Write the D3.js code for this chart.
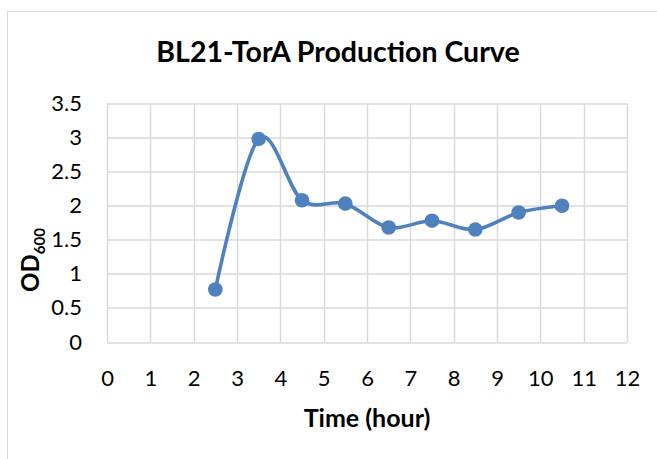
<!DOCTYPE html>
<html>
<head>
<meta charset="utf-8">
<script src="https://cdn.jsdelivr.net/npm/d3@7"></script>
<style>
  body { margin: 0; background: #fff; }
</style>
</head>
<body>
<div id="chart"></div>
<script>
// data
const hours = [2.5, 3.5, 4.5, 5.5, 6.5, 7.5, 8.5, 9.5, 10.5]
const od600 = [0.77, 2.98, 2.08, 2.03, 1.68, 1.78, 1.65, 1.90, 2.00]
const xTicks = [0, 1, 2, 3, 4, 5, 6, 7, 8, 9, 10, 11, 12]
const yTicks = [0, 0.5, 1, 1.5, 2, 2.5, 3, 3.5]

const W = 657, H = 459
const margin = { top: 103.5, right: 30, bottom: 117, left: 107 }
const width = 627 - margin.left
const height = 342 - margin.top
const font = "Lato, 'Open Sans', sans-serif"
const grid = "#d9d9d9"
const blue = "#4f81bd"

const svg = d3.select("#chart")
    .append("svg")
    .attr("width", W)
    .attr("height", H)

// chart frame
svg.append("rect")
    .attr("x", 7.5)
    .attr("y", 11.5)
    .attr("width", W)
    .attr("height", H)
    .attr("fill", "#fff")
    .attr("stroke", grid)

svg.append("text")
    .attr("x", 338)
    .attr("y", 62)
    .attr("text-anchor", "middle")
    .attr("font-family", font)
    .attr("font-weight", "700")
    .attr("font-size", 28.5)
    .attr("fill", "#000")
    .text("BL21-TorA Production Curve")

const g = svg.append("g")
    .attr("transform", "translate(" + margin.left + "," + margin.top + ")")

let x = d3.scaleLinear().domain([0, 12]).range([0, width])
let y = d3.scaleLinear().domain([0, 3.5]).range([height, 0])

// gridlines
g.append("g")
    .selectAll("line")
    .data(yTicks)
    .enter()
    .append("line")
    .attr("x1", 0)
    .attr("x2", width)
    .attr("y1", d => Math.round(y(d)) + 0.5)
    .attr("y2", d => Math.round(y(d)) + 0.5)
    .attr("stroke", grid)
    .attr("stroke-width", 1.5)

g.append("g")
    .selectAll("line")
    .data(xTicks)
    .enter()
    .append("line")
    .attr("x1", d => Math.round(x(d)) + 0.5)
    .attr("x2", d => Math.round(x(d)) + 0.5)
    .attr("y1", 0)
    .attr("y2", height)
    .attr("stroke", grid)
    .attr("stroke-width", 1.5)

// axes (labels only)
const xAxis = d3.axisBottom(x).tickValues(xTicks).tickSize(0).tickFormat(d3.format("d"))
const yAxis = d3.axisLeft(y).tickValues(yTicks).tickSize(0).tickPadding(25).tickFormat(d => d)

const gx = g.append("g").attr("transform", "translate(0," + height + ")").call(xAxis)
const gy = g.append("g").call(yAxis)

;[gx, gy].forEach(a => {
    a.select(".domain").remove()
    a.selectAll(".tick text")
        .attr("font-family", font)
        .attr("font-size", 22)
        .attr("fill", "#000")
})
gx.selectAll(".tick text").attr("y", 44).attr("dy", 0)

// axis titles
svg.append("text")
    .attr("x", 367)
    .attr("y", 427)
    .attr("text-anchor", "middle")
    .attr("font-family", font)
    .attr("font-weight", "700")
    .attr("font-size", 25)
    .attr("fill", "#000")
    .text("Time (hour)")

const yt = svg.append("text")
    .attr("transform", "translate(39,260) rotate(-90)")
    .attr("text-anchor", "middle")
    .attr("font-family", font)
    .attr("font-weight", "700")
    .attr("font-size", 24)
    .attr("fill", "#000")
yt.append("tspan").text("OD")
yt.append("tspan").attr("font-size", 15).attr("dy", 6).text("600")

// line
const pts = hours.map((h, i) => [h, od600[i]])
const line = d3.line()
    .x(d => x(d[0]))
    .y(d => y(d[1]))
    .curve(d3.curveCatmullRom.alpha(0))

g.append("path")
    .datum(pts)
    .attr("d", line)
    .attr("fill", "none")
    .attr("stroke", blue)
    .attr("stroke-width", 3.6)

g.append("g")
    .selectAll("circle")
    .data(pts)
    .enter()
    .append("circle")
    .attr("cx", d => x(d[0]))
    .attr("cy", d => y(d[1]))
    .attr("r", 7.3)
    .attr("fill", blue)
</script>
</body>
</html>
